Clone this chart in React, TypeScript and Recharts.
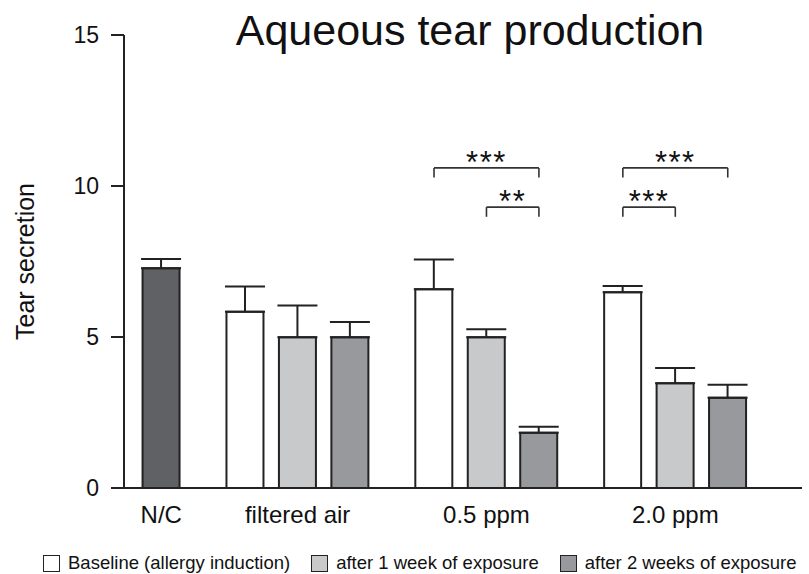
import React from "react";
import { BarChart, Bar, XAxis, YAxis, ErrorBar, ReferenceLine, Rectangle } from "recharts";

const categories = ["N/C", "filtered air", "0.5 ppm", "2.0 ppm"];
const seriesNames = ["Baseline (allergy induction)", "after 1 week of exposure", "after 2 weeks of exposure"];
// N/C has one bar, the other groups have one bar per series
const controlValue = [7.28];
const controlErr = [0.3];
const baseline = [5.84, 6.58, 6.48];
const baselineErr = [0.83, 0.99, 0.21];
const week1 = [4.99, 4.99, 3.47];
const week1Err = [1.05, 0.27, 0.5];
const week2 = [4.99, 1.83, 2.99];
const week2Err = [0.51, 0.2, 0.43];
const yTicks = [0, 5, 10, 15];

const brackets = [
  { group: "0.5 ppm", from: 0, to: 2, level: 10.6, text: "***" },
  { group: "0.5 ppm", from: 1, to: 2, level: 9.3, text: "**" },
  { group: "2.0 ppm", from: 0, to: 2, level: 10.6, text: "***" },
  { group: "2.0 ppm", from: 0, to: 1, level: 9.3, text: "***" },
];

const FONT = "'Liberation Sans', Arial, Helvetica, sans-serif";
const INK = "#222";
const CONTROL_FILL = "#606164";
const FILLS = ["#ffffff", "#c8c9cb", "#98999c"];
const BAR_W = 37;
const BAR_STEP = 5;
const GROUP_GAP = 8;
const LEG = 0.32;

type Row = { slot: string; value: number | null; err?: number[]; fill?: string };

const rows: Row[] = [];
const slotsOf: Record<string, string[]> = {};
const labelAt: Record<string, string> = {};

const seriesVals = [baseline, week1, week2];
const seriesErrs = [baselineErr, week1Err, week2Err];

categories.forEach((name, g) => {
  const bars =
    g === 0
      ? [{ value: controlValue[0], err: controlErr[0], fill: CONTROL_FILL }]
      : seriesVals.map((arr, s) => ({ value: arr[g - 1], err: seriesErrs[s][g - 1], fill: FILLS[s] }));
  if (g > 0) for (let k = 1; k < GROUP_GAP; k++) rows.push({ slot: `s${rows.length}`, value: null });
  slotsOf[name] = [];
  bars.forEach((b, i) => {
    if (i > 0) for (let k = 1; k < BAR_STEP; k++) rows.push({ slot: `s${rows.length}`, value: null });
    const slot = `s${rows.length}`;
    rows.push({ slot, value: b.value, err: [0, b.err], fill: b.fill });
    slotsOf[name].push(slot);
  });
  labelAt[slotsOf[name][Math.floor((bars.length - 1) / 2)]] = name;
});

const WideBar = (props: any) => {
  const { x, width, y, height, payload } = props;
  if (!payload || payload.value == null) return null;
  return (
    <Rectangle
      x={x + width / 2 - BAR_W / 2}
      y={y}
      width={BAR_W}
      height={height}
      fill={payload.fill}
      stroke={INK}
      strokeWidth={2}
    />
  );
};

export default function App() {
  return (
    <div style={{ position: "absolute", left: 0, top: 0, width: 809, height: 574, fontFamily: FONT, background: "#fff" }}>
      <BarChart
        width={809}
        height={574}
        data={rows}
        margin={{ top: 35, right: 7, bottom: 46, left: 0 }}
        style={{ fontFamily: FONT }}
      >
        <XAxis
          dataKey="slot"
          interval={0}
          tickFormatter={(v: string) => labelAt[v] ?? ""}
          tickLine={false}
          tickSize={0}
          tickMargin={18}
          height={40}
          padding={{ left: 32, right: 69 }}
          axisLine={{ stroke: INK, strokeWidth: 2 }}
          tick={{ fontSize: 24, fill: "#111" }}
        />
        <YAxis
          type="number"
          domain={[0, 15]}
          ticks={yTicks}
          width={124}
          tickSize={13}
          tickMargin={12}
          axisLine={{ stroke: INK, strokeWidth: 2 }}
          tickLine={{ stroke: INK, strokeWidth: 2 }}
          tick={{ fontSize: 23, fill: "#111" }}
          label={{
            value: "Tear secretion",
            angle: -90,
            position: "insideLeft",
            offset: 25,
            style: { textAnchor: "middle", fontSize: 25, fill: "#111" },
          }}
        />
        <Bar dataKey="value" shape={<WideBar />} isAnimationActive={false}>
          <ErrorBar dataKey="err" width={20} stroke={INK} strokeWidth={2} direction="y" />
        </Bar>
        {brackets.map((b, i) => {
          const a = slotsOf[b.group][b.from];
          const c = slotsOf[b.group][b.to];
          const line = { stroke: "#333", strokeWidth: 1.6, position: "middle" as const };
          return (
            <React.Fragment key={i}>
              <ReferenceLine
                {...line}
                segment={[{ x: a, y: b.level }, { x: c, y: b.level }]}
                label={{ value: b.text, position: "top", offset: -5, fontSize: 31, fill: "#111", letterSpacing: 1.5 }}
              />
              <ReferenceLine {...line} segment={[{ x: a, y: b.level }, { x: a, y: b.level - LEG }]} />
              <ReferenceLine {...line} segment={[{ x: c, y: b.level }, { x: c, y: b.level - LEG }]} />
            </React.Fragment>
          );
        })}
      </BarChart>
      <div
        style={{
          position: "absolute",
          left: 0,
          top: 9,
          width: 940,
          textAlign: "center",
          fontSize: 43,
          lineHeight: "43px",
          color: "#111",
        }}
      >
        Aqueous tear production
      </div>
      <div
        style={{
          position: "absolute",
          left: 43,
          top: 554,
          display: "flex",
          alignItems: "center",
          gap: 21,
          fontSize: 18.5,
          lineHeight: "18px",
          color: "#111",
          whiteSpace: "nowrap",
        }}
      >
        {seriesNames.map((name, i) => (
          <div key={name} style={{ display: "flex", alignItems: "center", gap: 8 }}>
            <span
              style={{
                display: "inline-block",
                width: 15,
                height: 15,
                background: FILLS[i],
                border: `1.5px solid ${INK}`,
              }}
            />
            <span>{name}</span>
          </div>
        ))}
      </div>
    </div>
  );
}
